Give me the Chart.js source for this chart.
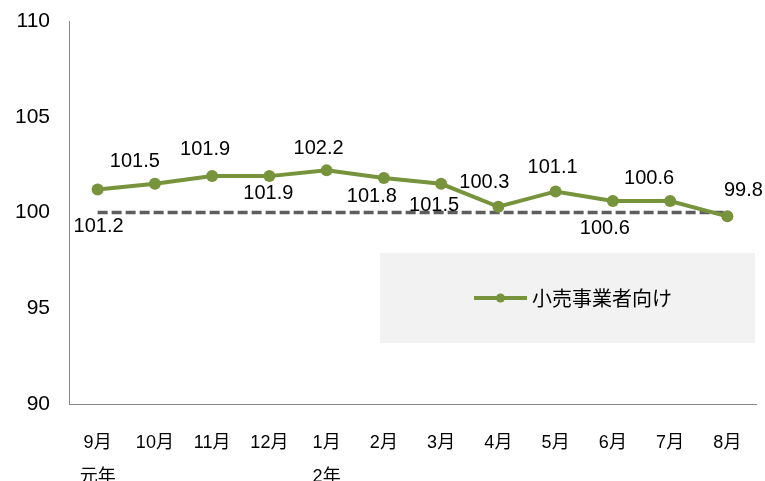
<!DOCTYPE html>
<html>
<head>
<meta charset="utf-8">
<script src="https://cdn.jsdelivr.net/npm/chart.js@4/dist/chart.umd.min.js"></script>
<style>
  html, body { margin: 0; padding: 0; background: #ffffff; }
  #wrap { width: 765px; height: 481px; }
</style>
</head>
<body>
<div id="wrap"><canvas id="c" width="765" height="481"></canvas></div>
<script>
// ---- data ----
const months = ['9月', '10月', '11月', '12月', '1月', '2月', '3月', '4月', '5月', '6月', '7月', '8月'];
const yearLabels = ['元年', '', '', '', '2年', '', '', '', '', '', '', ''];
const retailValues = [101.2, 101.5, 101.9, 101.9, 102.2, 101.8, 101.5, 100.3, 101.1, 100.6, 100.6, 99.8];
const baselineValues = [100, 100, 100, 100, 100, 100, 100, 100, 100, 100, 100, 100];
const seriesName = '小売事業者向け';
const yTicks = { min: 90, max: 110, step: 5 };

// ---- label placement (pixel offsets from each point) ----
const labelOffsets = [
  [1, 37], [-20, -22], [-7, -27], [-1, 17], [-8, -22], [-12, 18],
  [-7, 22], [-14, -24], [-3, -24], [-8, 27], [-21, -23], [16, -26]
];

const GREEN = '#77933C';
const DASH = '#5E5E5E';
const FONT = "'Liberation Sans', 'Noto Sans CJK JP', sans-serif";
const CLEAR = 'rgba(0,0,0,0)';

const labels = months.map((m, i) => yearLabels[i] ? [m, yearLabels[i]] : [m]);

const dataLabelPlugin = {
  id: 'dataLabels',
  afterDatasetsDraw(chart) {
    const meta = chart.getDatasetMeta(0);
    const ctx = chart.ctx;
    ctx.save();
    ctx.font = '20px ' + FONT;
    ctx.fillStyle = '#000000';
    ctx.textAlign = 'center';
    ctx.textBaseline = 'middle';
    meta.data.forEach((pt, i) => {
      const off = labelOffsets[i] || [0, -22];
      ctx.fillText(retailValues[i].toFixed(1), pt.x + off[0], pt.y + off[1]);
    });
    ctx.restore();
  }
};

const legendPlugin = {
  id: 'boxLegend',
  afterDraw(chart) {
    const ctx = chart.ctx;
    const ds = chart.data.datasets[0];
    const ca = chart.chartArea;
    const bx = 380, by = 253, bw = ca.right - 1 - bx, bh = 90;
    ctx.save();
    ctx.fillStyle = '#F2F2F2';
    ctx.fillRect(bx, by, bw, bh);
    const cy = by + bh / 2;
    ctx.strokeStyle = ds.borderColor;
    ctx.lineWidth = ds.borderWidth;
    ctx.beginPath();
    ctx.moveTo(474, cy);
    ctx.lineTo(527, cy);
    ctx.stroke();
    ctx.fillStyle = ds.pointBackgroundColor;
    ctx.beginPath();
    ctx.arc(500.5, cy, 4.5, 0, Math.PI * 2);
    ctx.fill();
    ctx.fillStyle = '#000000';
    ctx.font = "20px 'Noto Sans CJK JP', sans-serif";
    ctx.textAlign = 'left';
    ctx.textBaseline = 'middle';
    ctx.fillText(ds.label, 532, cy);
    ctx.restore();
  }
};

new Chart(document.getElementById('c'), {
  type: 'line',
  data: {
    labels: labels,
    datasets: [
      {
        label: seriesName,
        data: retailValues,
        borderColor: GREEN,
        backgroundColor: GREEN,
        borderWidth: 4,
        pointRadius: 6,
        pointBackgroundColor: GREEN,
        pointBorderColor: GREEN,
        pointBorderWidth: 0,
        tension: 0,
        fill: false
      },
      {
        label: 'baseline',
        data: baselineValues,
        borderColor: DASH,
        borderWidth: 3.5,
        borderDash: [10, 4],
        pointRadius: 0,
        tension: 0,
        fill: false
      }
    ]
  },
  options: {
    responsive: false,
    devicePixelRatio: 1,
    animation: false,
    layout: { padding: { top: 21, right: 9, left: 0, bottom: 0 } },
    plugins: {
      legend: { display: false },
      tooltip: { enabled: false }
    },
    scales: {
      x: {
        offset: true,
        grid: { display: true, color: CLEAR, tickColor: CLEAR, drawOnChartArea: false, drawTicks: true, tickLength: 22, offset: true },
        border: { display: true, color: '#868686', width: 1 },
        ticks: {
          color: '#000000',
          font: { size: 18, family: FONT, lineHeight: 1.89 },
          padding: 0,
          maxRotation: 0,
          autoSkip: false
        },
        afterFit(scale) { scale.height = 77; }
      },
      y: {
        min: yTicks.min,
        max: yTicks.max,
        grid: { display: true, color: CLEAR, tickColor: CLEAR, drawOnChartArea: false, drawTicks: true, tickLength: 19 },
        border: { display: true, color: '#868686', width: 1 },
        ticks: {
          stepSize: yTicks.step,
          color: '#000000',
          font: { size: 21, family: FONT },
          padding: 0
        },
        afterFit(scale) { scale.width = 69; }
      }
    }
  },
  plugins: [dataLabelPlugin, legendPlugin]
});
</script>
</body>
</html>
